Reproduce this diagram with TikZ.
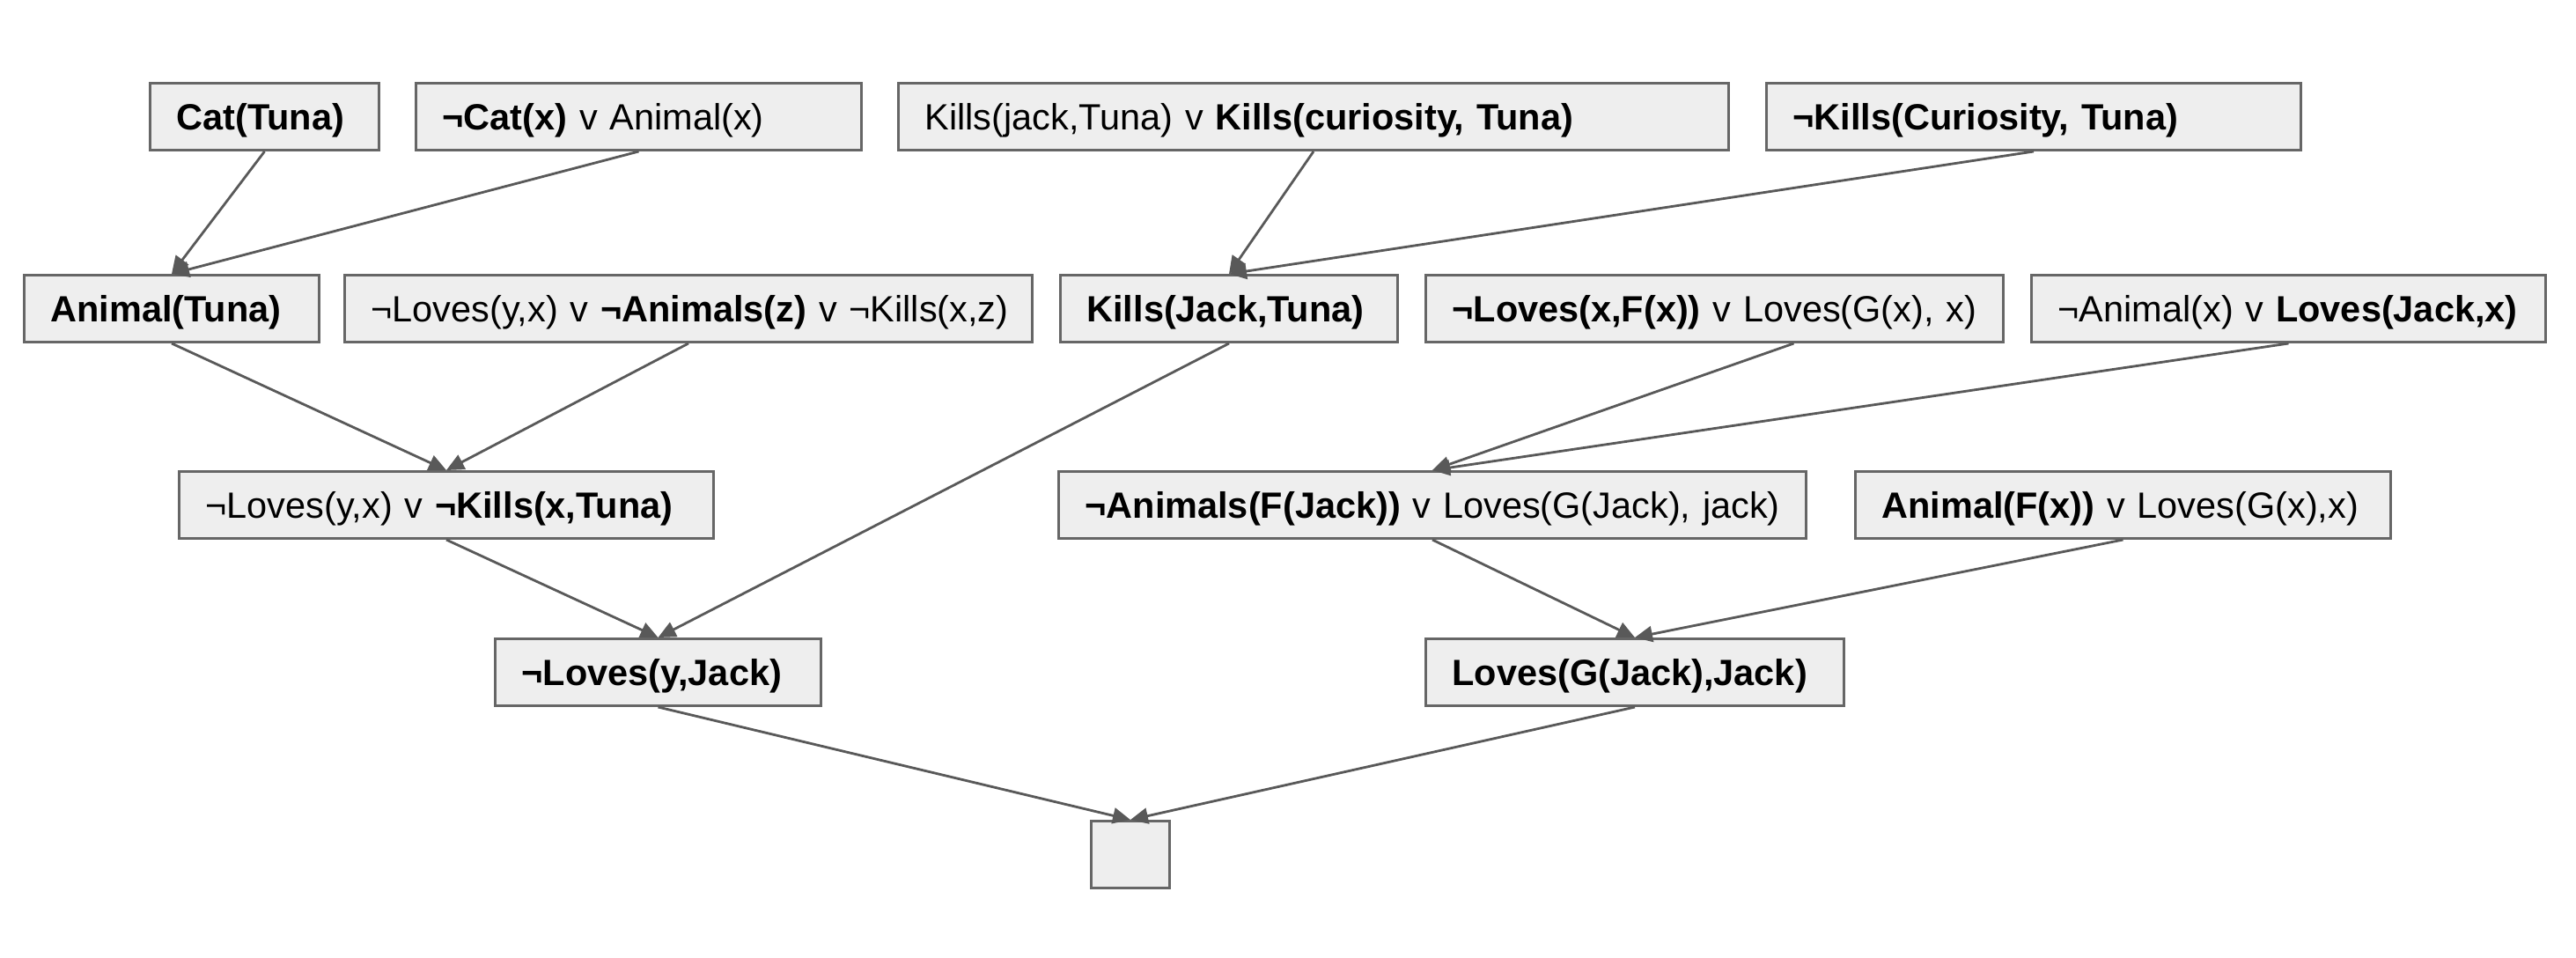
\documentclass[tikz,border=0pt]{standalone}
\usepackage{fontspec}
\setmainfont{Liberation Sans}
\usetikzlibrary{arrows.meta}
\definecolor{boxfill}{HTML}{EEEEEE}
\definecolor{boxline}{HTML}{666666}
\definecolor{edgeline}{HTML}{595959}

\begin{document}
\begin{tikzpicture}[
	c/.style={draw=boxline, fill=boxfill, line width=0.85pt, anchor=north west,
		text width=#1, inner xsep=0.3cm, inner ysep=0pt, minimum height=0.76cm,
		text height=0.35cm, text depth=0.06cm, font=\fontsize{11.8}{14}\selectfont,
		execute at begin node={\hbox\bgroup}, execute at end node={\egroup}},
	res/.style={-{Triangle[length=0.2cm, width=0.18cm]}, draw=edgeline, line width=0.8pt}]
		\useasboundingbox (0,0) rectangle (29.26,-10.87);

		% given clauses
		\node [c=2.00cm] (cat)     at (1.69,-0.93)  {\textbf{Cat(Tuna)}};
		\node [c=4.46cm] (catimp)  at (4.71,-0.93)  {\textbf{¬Cat(x)} v Animal(x)};
		\node [c=8.83cm] (killsor) at (10.19,-0.93) {Kills(jack,Tuna) v \textbf{Kills(curiosity, Tuna)}};
		\node [c=5.47cm] (nkills)  at (20.05,-0.93) {\textbf{¬Kills(Curiosity, Tuna)}};

		\node [c=2.75cm] (animal)   at (0.26,-3.11)  {\textbf{Animal(Tuna)}};
		\node [c=7.21cm] (lovesimp) at (3.90,-3.11)  {¬Loves(y,x) v \textbf{¬Animals(z)} v ¬Kills(x,z)};
		\node [c=3.23cm] (killsjt)  at (12.03,-3.11) {\textbf{Kills(Jack,Tuna)}};
		\node [c=5.96cm] (lovesf)   at (16.18,-3.11) {\textbf{¬Loves(x,F(x))} v Loves(G(x), x)};
		\node [c=5.24cm] (animpl)   at (23.06,-3.11) {¬Animal(x) v \textbf{Loves(Jack,x)}};

		\node [c=5.47cm] (nlk)   at (2.02,-5.34)  {¬Loves(y,x) v \textbf{¬Kills(x,Tuna)}};
		\node [c=7.89cm] (nanim) at (12.01,-5.34) {\textbf{¬Animals(F(Jack))} v Loves(G(Jack), jack)};
		\node [c=5.48cm] (animf) at (21.06,-5.34) {\textbf{Animal(F(x))} v Loves(G(x),x)};

		\node [c=3.10cm] (nlj) at (5.61,-7.24)  {\textbf{¬Loves(y,Jack)}};
		\node [c=4.15cm] (lgj) at (16.18,-7.24) {\textbf{Loves(G(Jack),Jack)}};

		% empty clause
		\node [c=0.29cm] (empty) at (12.38,-9.31) {};

		% resolution steps
		\draw[res] (cat.south) -- (animal.north);
		\draw[res] (catimp.south) -- (animal.north);
		\draw[res] (killsor.south) -- (killsjt.north);
		\draw[res] (nkills.south) -- (killsjt.north);
		\draw[res] (animal.south) -- (nlk.north);
		\draw[res] (lovesimp.south) -- (nlk.north);
		\draw[res] (killsjt.south) -- (nlj.north);
		\draw[res] ([xshift=0.9cm]lovesf.south) -- (nanim.north);
		\draw[res] (animpl.south) -- (nanim.north);
		\draw[res] (nlk.south) -- (nlj.north);
		\draw[res] (nanim.south) -- (lgj.north);
		\draw[res] (animf.south) -- (lgj.north);
		\draw[res] (nlj.south) -- (empty.north);
		\draw[res] (lgj.south) -- (empty.north);
	\end{tikzpicture}
\end{document}
